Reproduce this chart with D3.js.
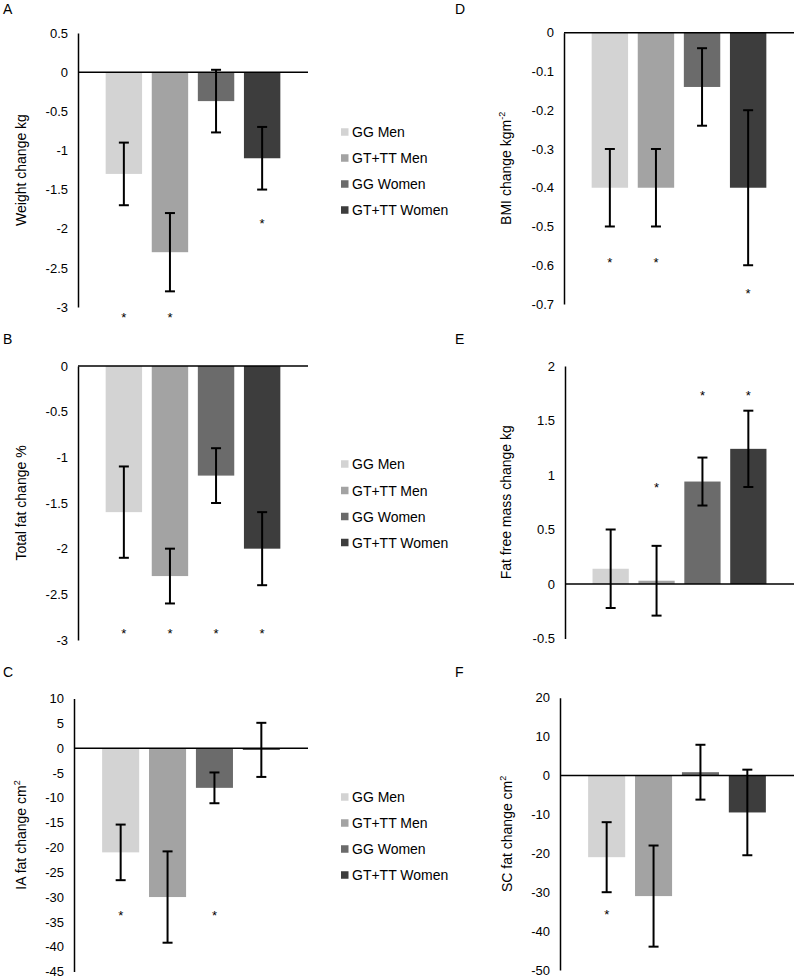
<!DOCTYPE html>
<html>
<head>
<meta charset="utf-8">
<script src="https://cdn.jsdelivr.net/npm/d3@7"></script>
<style>
  html, body { margin: 0; padding: 0; background: #fff; }
  svg { display: block; font-family: "Liberation Sans", Arial, sans-serif; }
</style>
</head>
<body>
<svg id="chart" width="800" height="979"></svg>
<script>
// ---------- DATA ----------
const series = ["GG Men", "GT+TT Men", "GG Women", "GT+TT Women"];

// A: weight change (kg)
const weightMean  = [-1.3, -2.3, -0.37, -1.1];
const weightErr   = [0.4, 0.5, 0.4, 0.4];
const weightStars = [-3.1, -3.1, null, -1.9];
const weightTicks = [0.5, 0, -0.5, -1, -1.5, -2, -2.5, -3];

// B: total fat change (%)
const fatMean  = [-1.6, -2.3, -1.2, -2.0];
const fatErr   = [0.5, 0.3, 0.3, 0.4];
const fatStars = [-2.9, -2.9, -2.9, -2.9];
const fatTicks = [0, -0.5, -1, -1.5, -2, -2.5, -3];

// C: IA fat change (cm2)
const iaMean  = [-21, -30, -8, -0.35];
const iaErr   = [5.6, 9.2, 3.1, 5.45];
const iaStars = [-33.2, null, -33.2, null];
const iaTicks = [10, 5, 0, -5, -10, -15, -20, -25, -30, -35, -40, -45];

// D: BMI change (kgm-2)
const bmiMean  = [-0.4, -0.4, -0.14, -0.4];
const bmiErr   = [0.1, 0.1, 0.1, 0.2];
const bmiStars = [-0.585, -0.585, null, -0.665];
const bmiTicks = [0, -0.1, -0.2, -0.3, -0.4, -0.5, -0.6, -0.7];

// E: fat free mass change (kg)
const ffmMean  = [0.14, 0.03, 0.94, 1.24];
const ffmErr   = [0.36, 0.32, 0.22, 0.35];
const ffmStars = [null, 0.91, 1.76, 1.76];
const ffmTicks = [2, 1.5, 1, 0.5, 0, -0.5];

// F: SC fat change (cm2)
const scMean  = [-21, -31, 0.85, -9.5];
const scErr   = [9, 13, 7.05, 11];
const scStars = [-35, null, null, null];
const scTicks = [20, 10, 0, -10, -20, -30, -40, -50];

// ---------- STYLE / LAYOUT ----------
const barColors = ["#d3d3d3", "#a3a3a3", "#6b6b6b", "#3d3d3d"];

const panels = [
  { letter: "A", mean: weightMean, err: weightErr, stars: weightStars, ticks: weightTicks,
    title: "Weight change kg", sup: null,
    x0: 78, x1: 308, yTop: 33, yBot: 307, lx: 3, ly: 14, tx: 26 },
  { letter: "B", mean: fatMean, err: fatErr, stars: fatStars, ticks: fatTicks,
    title: "Total fat change %", sup: null,
    x0: 78, x1: 308, yTop: 366, yBot: 640, lx: 3, ly: 344, tx: 26 },
  { letter: "C", mean: iaMean, err: iaErr, stars: iaStars, ticks: iaTicks,
    title: "IA fat change cm", sup: "2",
    x0: 74, x1: 308, yTop: 698.5, yBot: 971.5, lx: 3, ly: 677, tx: 26 },
  { letter: "D", mean: bmiMean, err: bmiErr, stars: bmiStars, ticks: bmiTicks,
    title: "BMI change kgm", sup: "-2",
    x0: 564, x1: 794, yTop: 32.7, yBot: 304, lx: 455, ly: 14, tx: 511 },
  { letter: "E", mean: ffmMean, err: ffmErr, stars: ffmStars, ticks: ffmTicks,
    title: "Fat free mass change kg", sup: null,
    x0: 565, x1: 794, yTop: 366, yBot: 638.5, lx: 455, ly: 344, tx: 511 },
  { letter: "F", mean: scMean, err: scErr, stars: scStars, ticks: scTicks,
    title: "SC fat change cm", sup: "2",
    x0: 560, x1: 794, yTop: 697.7, yBot: 970, lx: 455, ly: 677, tx: 512 }
];

const legendRows = [
  [132, 158, 184, 210],
  [464, 490.5, 516.5, 542.5],
  [797, 823, 849, 875]
];

const svg = d3.select("#chart");
svg.append("rect").attr("width", 800).attr("height", 979).attr("fill", "#fff");

panels.forEach(p => {
  const g = svg.append("g");
  const y = d3.scaleLinear()
    .domain([d3.min(p.ticks), d3.max(p.ticks)])
    .range([p.yBot, p.yTop]);
  const x = d3.scaleBand()
    .domain(series)
    .range([p.x0, p.x1])
    .paddingInner(0.21)
    .paddingOuter(0.6);

  // bars
  g.selectAll("rect.bar")
    .data(series.map((s, i) => ({ s, v: p.mean[i], e: p.err[i], star: p.stars[i], c: barColors[i] })))
    .join("rect")
    .attr("class", "bar")
    .attr("x", d => x(d.s))
    .attr("width", x.bandwidth())
    .attr("y", d => Math.min(y(0), y(d.v)))
    .attr("height", d => Math.max(0.8, Math.abs(y(d.v) - y(0))))
    .attr("fill", d => d.c);

  // y axis
  const ax = g.append("g")
    .attr("transform", `translate(${p.x0},0)`)
    .call(d3.axisLeft(y).tickValues(p.ticks).tickSize(0).tickSizeOuter(0).tickPadding(10)
      .tickFormat(d => String(d)));
  ax.select(".domain").attr("stroke", "#000").attr("stroke-width", 1.5);
  ax.selectAll(".tick text")
    .attr("font-family", "Liberation Sans, Arial, sans-serif")
    .attr("font-size", 13)
    .attr("fill", "#000");
  ax.attr("font-family", null).attr("font-size", null);

  // zero line
  g.append("line")
    .attr("x1", p.x0).attr("x2", p.x1)
    .attr("y1", y(0)).attr("y2", y(0))
    .attr("stroke", "#000").attr("stroke-width", 1.5);

  // error bars
  const eb = g.selectAll("g.err")
    .data(series.map((s, i) => ({ s, v: p.mean[i], e: p.err[i] })))
    .join("g").attr("class", "err");
  eb.append("line")
    .attr("x1", d => x(d.s) + x.bandwidth() / 2)
    .attr("x2", d => x(d.s) + x.bandwidth() / 2)
    .attr("y1", d => y(d.v + d.e))
    .attr("y2", d => y(d.v - d.e))
    .attr("stroke", "#000").attr("stroke-width", 2);
  [1, -1].forEach(sg => {
    eb.append("line")
      .attr("x1", d => x(d.s) + x.bandwidth() / 2 - 5)
      .attr("x2", d => x(d.s) + x.bandwidth() / 2 + 5)
      .attr("y1", d => y(d.v + sg * d.e))
      .attr("y2", d => y(d.v + sg * d.e))
      .attr("stroke", "#000").attr("stroke-width", 2);
  });

  // significance stars
  g.selectAll("text.star")
    .data(series.map((s, i) => ({ s, v: p.stars[i] })).filter(d => d.v !== null))
    .join("text")
    .attr("class", "star")
    .attr("x", d => x(d.s) + x.bandwidth() / 2)
    .attr("y", d => y(d.v) + 7.5)
    .attr("text-anchor", "middle")
    .attr("font-size", 13)
    .attr("fill", "#000")
    .text("*");

  // axis title
  const cy = (p.yTop + p.yBot) / 2;
  const t = g.append("text")
    .attr("transform", `translate(${p.tx},${cy}) rotate(-90)`)
    .attr("text-anchor", "middle")
    .attr("font-size", 14)
    .attr("fill", "#000");
  t.append("tspan").text(p.title);
  if (p.sup) {
    t.append("tspan").attr("font-size", 9).attr("dy", -6).text(p.sup);
  }

  // panel letter
  g.append("text")
    .attr("x", p.lx).attr("y", p.ly)
    .attr("font-size", 14)
    .attr("fill", "#000")
    .text(p.letter);
});

// legends
legendRows.forEach(rows => {
  const lg = svg.append("g");
  series.forEach((s, i) => {
    lg.append("rect")
      .attr("x", 341).attr("y", rows[i] - 3.75)
      .attr("width", 7.5).attr("height", 7.5)
      .attr("fill", barColors[i]);
    lg.append("text")
      .attr("x", 352).attr("y", rows[i] + 5)
      .attr("font-size", 14)
      .attr("fill", "#000")
      .text(s);
  });
});
</script>
</body>
</html>
